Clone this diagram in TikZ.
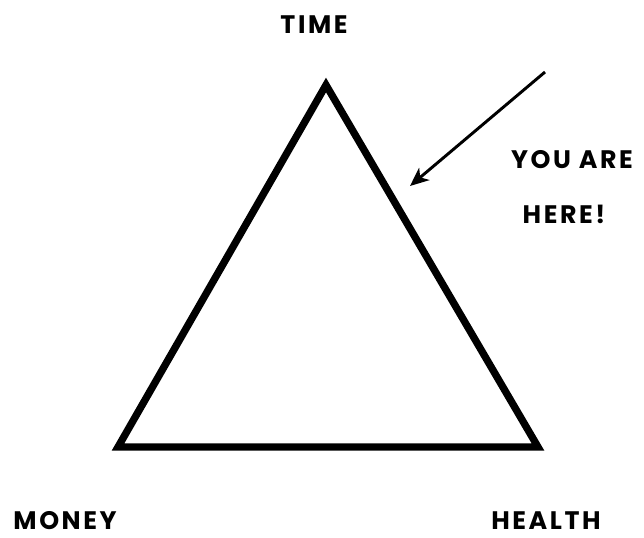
\documentclass[tikz,border=0pt]{standalone}
\usepackage{fontspec}
\setmainfont{Poppins}[LetterSpace=10]
\usetikzlibrary{arrows.meta}
\begin{document}
\begin{tikzpicture}[x=0.75pt,y=-0.75pt,
  lbl/.style={font=\fontsize{19}{22}\selectfont\bfseries, inner sep=0pt},
  tri/.style={line width=5.5pt, line join=miter},
  pointer/.style={line width=2.2pt, -{Stealth[length=14pt,width=12pt,inset=4pt]}}]
\useasboundingbox (0,0) rectangle (644,537);
\coordinate (top) at (326,85);
\coordinate (bl) at (118,447);
\coordinate (br) at (538,447);
\draw[tri] (top) -- (bl) -- (br) -- cycle;
\coordinate (from) at (545,72);
\coordinate (to) at (410,186);
\draw[pointer] (from) -- (to);
\node[lbl] (time) at (314,25) {TIME};
\node[lbl] (here1) at (572,160) {YOU ARE};
\node[lbl] (here2) at (564,214) {HERE!};
\node[lbl] (money) at (65,521) {MONEY};
\node[lbl] (health) at (546,521) {HEALTH};
\end{tikzpicture}
\end{document}
